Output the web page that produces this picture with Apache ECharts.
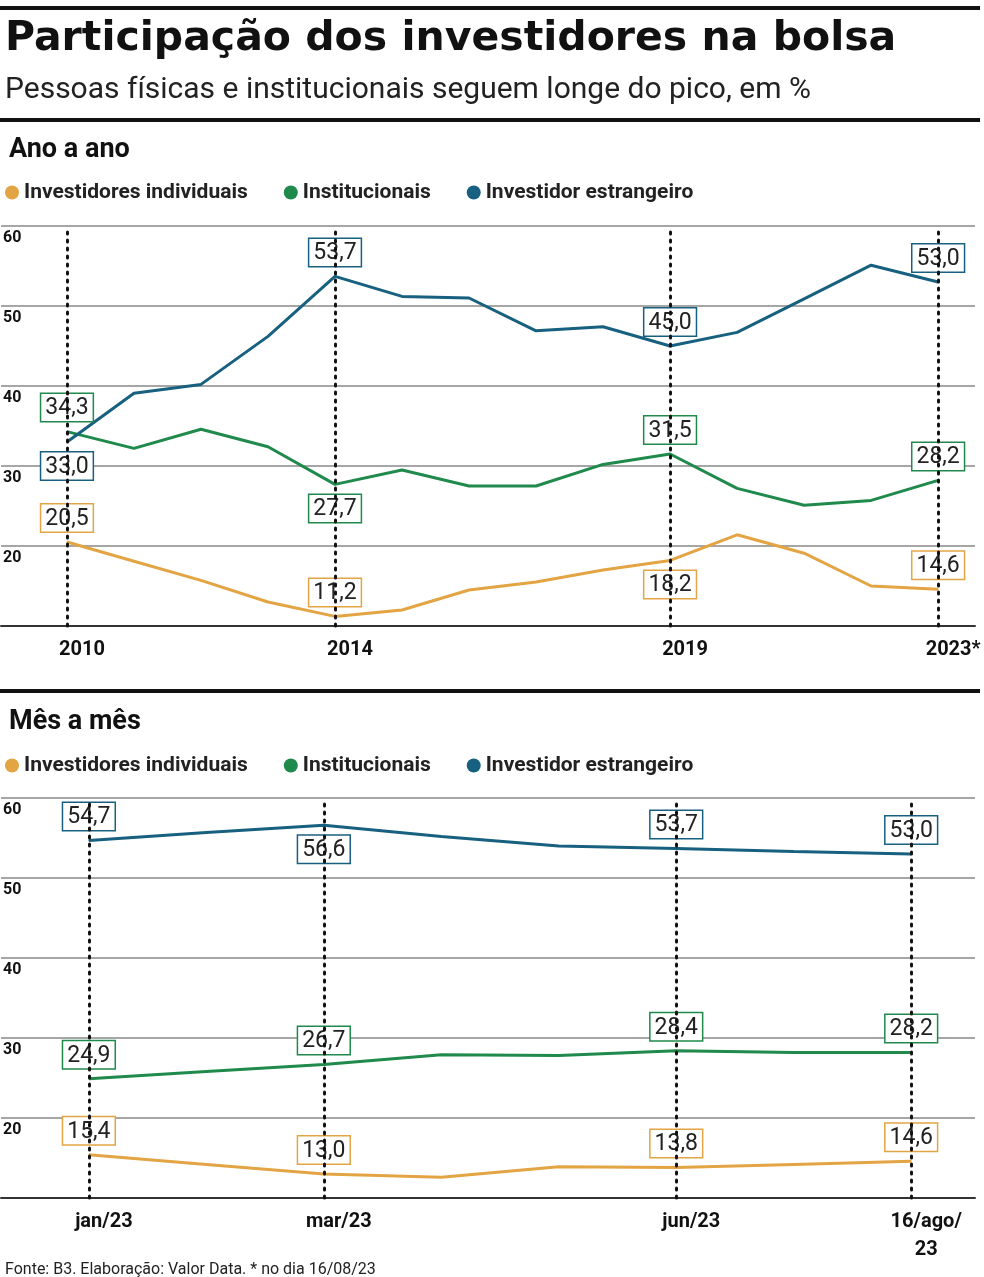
<!DOCTYPE html>
<html><head><meta charset="utf-8">
<script src="https://cdn.jsdelivr.net/npm/echarts@6/dist/echarts.min.js"></script>
<style>html,body{margin:0;padding:0;background:#fff}#c{width:984px;height:1277px}</style>
</head><body><div id="c"></div>
<script>
var years = [2010,2011,2012,2013,2014,2015,2016,2017,2018,2019,2020,2021,2022,2023];
var yearIndiv = [20.5,18.1,15.7,13.0,11.2,12.0,14.5,15.5,17.0,18.2,21.4,19.1,15.0,14.6];
var yearInst  = [34.3,32.2,34.6,32.4,27.7,29.5,27.5,27.5,30.2,31.5,27.2,25.1,25.7,28.2];
var yearFor   = [33.0,39.1,40.2,46.2,53.7,51.2,51.0,46.9,47.4,45.0,46.7,50.9,55.1,53.0];
var yearTicks = [2010,2014,2019,2023];
var yearTickLabels = ['2010','2014','2019','2023*'];

var months = [0,1,2,3,4,5,6,7];
var monIndiv = [15.4,14.2,13.0,12.6,13.9,13.8,14.2,14.6];
var monInst  = [24.9,25.8,26.7,27.9,27.8,28.4,28.2,28.2];
var monFor   = [54.7,55.7,56.6,55.2,54.0,53.7,53.3,53.0];
var monTicks = [0,2,5,7];
var monTickLabels = ['jan/23','mar/23','jun/23','16/ago/\n23'];

var names = ['Investidores individuais','Institucionais','Investidor estrangeiro'];
var colors = ['#e3a444','#1f8a4c','#17607f'];
var NF = "'Liberation Sans Narrow','Roboto',sans-serif";

// which points get a value box, and where
var yearBoxes = [
  {0:'top',4:'top',9:'bottom',13:'top'},
  {0:'top',4:'bottom',9:'top',13:'top'},
  {0:'bottom',4:'top',9:'top',13:'top'}
];
var monBoxes = [
  {0:'top',2:'top',5:'top',7:'top'},
  {0:'top',2:'top',5:'top',7:'top'},
  {0:'top',2:'bottom',5:'top',7:'top'}
];

function build(xs, ys, boxes, color) {
  return xs.map(function (x, i) {
    var item = {value: [x, ys[i]]};
    if (boxes[i]) {
      item.label = {
        show: true, position: boxes[i], distance: 10,
        formatter: function (p) { return p.value[1].toFixed(1).replace('.', ','); },
        backgroundColor: '#fff', borderColor: color, borderWidth: 1.5,
        padding: [3, 4, 1, 4], color: '#222', fontSize: 23, fontFamily: NF
      };
    } else {
      item.label = {show: false};
    }
    return item;
  });
}

var series = [];
function addLines(idx, xs, arrs, boxes) {
  arrs.forEach(function (arr, k) {
    series.push({name: names[k], type: 'line', xAxisIndex: idx, yAxisIndex: idx,
      data: build(xs, arr, boxes[k], colors[k]),
      symbol: 'circle', symbolSize: 1, showSymbol: true, z: 3,
      lineStyle: {color: colors[k], width: 3}, itemStyle: {color: colors[k]}});
  });
}
addLines(0, years, [yearIndiv, yearInst, yearFor], yearBoxes);
addLines(1, months, [monIndiv, monInst, monFor], monBoxes);

function dots(idx, ticks) {
  return {type: 'line', xAxisIndex: idx, yAxisIndex: idx, data: [], silent: true, z: 2,
    markLine: {symbol: 'none', silent: true, label: {show: false},
      lineStyle: {type: [2, 6], color: '#111', width: 3, cap: 'round'},
      data: ticks.map(function (t) { return {xAxis: t}; })}};
}
series.push(dots(0, yearTicks));
series.push(dots(1, monTicks));

function yAx(idx) {
  return {type: 'value', gridIndex: idx, min: 10, max: 60, interval: 10,
    axisLine: {show: false}, axisTick: {show: false},
    splitLine: {lineStyle: {color: '#888', width: 1.5}},
    axisLabel: {inside: true, verticalAlign: 'top', margin: 2, padding: [4, 0, 0, 0],
      color: '#111', fontWeight: 'bold', fontSize: 16, fontFamily: NF,
      formatter: function (v) { return v === 10 ? '' : v; }}};
}
function xAx(idx, min, max, ticks, labels) {
  return {type: 'value', gridIndex: idx, min: min, max: max,
    axisLine: {lineStyle: {color: '#333', width: 2}}, axisTick: {show: false},
    splitLine: {show: false},
    axisLabel: {customValues: ticks, margin: 10, color: '#111', fontWeight: 'bold',
      fontSize: 20, fontFamily: NF, lineHeight: 28, padding: [0, 0, 0, 30],
      formatter: function (v) { return labels[ticks.indexOf(v)]; }}};
}
var legendBase = {icon: 'circle', itemWidth: 14, itemHeight: 14, itemGap: 36, left: 0,
  textStyle: {fontSize: 21, fontWeight: 'bold', color: '#222', fontFamily: NF}};

var chart = echarts.init(document.getElementById('c'));
chart.setOption({
  animation: false,
  color: colors,
  title: [
    {text: 'Participação dos investidores na bolsa', left: 0, top: 14,
      textStyle: {fontSize: 41, fontWeight: 900, color: '#111', fontFamily: "'DejaVu Sans',sans-serif"}},
    {text: 'Pessoas físicas e institucionais seguem longe do pico, em %', left: 0, top: 70,
      textStyle: {fontSize: 30, fontWeight: 'normal', color: '#222', fontFamily: NF}},
    {text: 'Ano a ano', left: 4, top: 132, textStyle: {fontSize: 27, fontWeight: 'bold', color: '#111', fontFamily: NF}},
    {text: 'Mês a mês', left: 4, top: 704, textStyle: {fontSize: 27, fontWeight: 'bold', color: '#111', fontFamily: NF}},
    {text: 'Fonte: B3. Elaboração: Valor Data. * no dia 16/08/23', left: 0, top: 1257,
      textStyle: {fontSize: 16, fontWeight: 'normal', color: '#222', fontFamily: NF}}
  ],
  graphic: [
    {type: 'rect', shape: {x: 0, y: 6, width: 980, height: 4}, style: {fill: '#111'}},
    {type: 'rect', shape: {x: 0, y: 118, width: 980, height: 4}, style: {fill: '#111'}},
    {type: 'rect', shape: {x: 0, y: 689, width: 980, height: 4}, style: {fill: '#111'}}
  ],
  legend: [
    Object.assign({top: 177, data: names}, legendBase),
    Object.assign({top: 750, data: names}, legendBase)
  ],
  grid: [
    {left: 0, width: 975, top: 226, height: 400},
    {left: 0, width: 975, top: 798, height: 400}
  ],
  xAxis: [xAx(0, 2009.016, 2023.55, yearTicks, yearTickLabels),
          xAx(1, -0.748, 7.543, monTicks, monTickLabels)],
  yAxis: [yAx(0), yAx(1)],
  series: series
});
</script></body></html>
